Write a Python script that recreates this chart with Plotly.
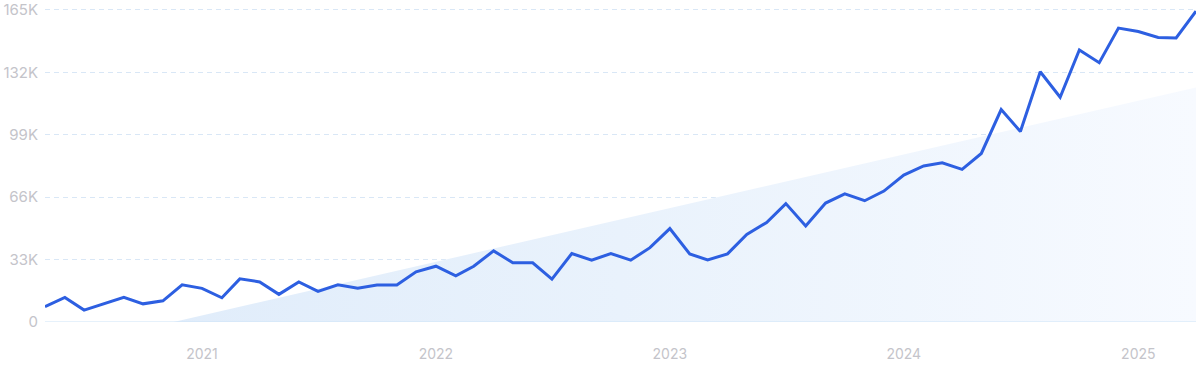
import pandas as pd
import plotly.graph_objects as go

# Monthly values (thousands), May 2020 .. Apr 2025
dates = pd.date_range("2020-05-01", "2025-04-01", freq="MS")
values_k = [
    8.1, 13.0, 6.3, 9.6, 13.0, 9.6, 11.2, 19.7,          # 2020 May-Dec
    17.8, 12.8, 22.8, 21.2, 14.6, 21.2, 16.2, 19.7, 17.8, 19.5, 19.5, 26.5,  # 2021
    29.5, 24.4, 29.5, 37.6, 31.3, 31.3, 22.7, 36.2, 32.7, 36.2, 32.7, 39.3,  # 2022
    49.4, 36.0, 32.8, 36.0, 46.3, 52.6, 62.6, 50.8, 62.9, 67.7, 64.1, 69.2,  # 2023
    77.7, 82.5, 84.2, 80.7, 89.1, 112.3, 100.7, 132.3, 118.8, 143.8, 137.1, 155.4,  # 2024
    153.6, 150.4, 150.2, 164.3,                           # 2025 Jan-Apr
]
values = [v * 1000 for v in values_k]

# Linear trend shown as shaded area (value at first and last month)
trend_dates = [dates[0], dates[-1]]
trend_values = [-15600, 124000]

y_ticks = [0, 33000, 66000, 99000, 132000, 165000]
y_tick_labels = ["0", "33K", "66K", "99K", "132K", "165K"]
x_ticks = ["2021-01-01", "2022-01-01", "2023-01-01", "2024-01-01", "2025-01-01"]
x_tick_labels = ["2021", "2022", "2023", "2024", "2025"]

fig = go.Figure()
fig.add_trace(go.Scatter(
    x=trend_dates, y=trend_values, mode="lines", line=dict(width=0),
    fill="tozeroy",
    fillgradient=dict(type="horizontal",
                      colorscale=[[0, "rgb(222,235,250)"], [0.5, "rgb(233,242,252)"], [1, "rgb(247,250,255)"]]),
    hoverinfo="skip", showlegend=False,
))
fig.add_trace(go.Scatter(
    x=dates, y=values, mode="lines",
    line=dict(color="rgb(45,95,225)", width=3),
    showlegend=False, cliponaxis=False,
))

fig.update_layout(
    width=1200, height=371,
    margin=dict(l=45, r=4, t=8, b=49),
    paper_bgcolor="white", plot_bgcolor="white",
    font=dict(family="Inter, Roboto, sans-serif", color="#c4c4ca"),
)
fig.update_xaxes(
    range=[dates[0], dates[-1]], automargin=False,
    tickvals=x_ticks, ticktext=x_tick_labels,
    showgrid=False, zeroline=False, showline=False,
    tickfont=dict(size=14, color="#c4c4ca"), ticks="", ticklabelstandoff=22,
)
fig.update_yaxes(
    range=[0, 166000], automargin=False,
    tickvals=y_ticks, ticktext=y_tick_labels, ticklabeloverflow="allow",
    showgrid=True, gridcolor="#d9e7f6", griddash="5px,4px", gridwidth=1,
    zeroline=False, showline=False,
    tickfont=dict(size=15, color="#c4c4ca"), ticks="", ticklabelstandoff=6,
)
fig.add_hline(y=0, line=dict(color="#cde4f8", width=1.2))

fig.write_html("out.html", config={"displayModeBar": False},
               post_script="document.body.style.margin='0';")
